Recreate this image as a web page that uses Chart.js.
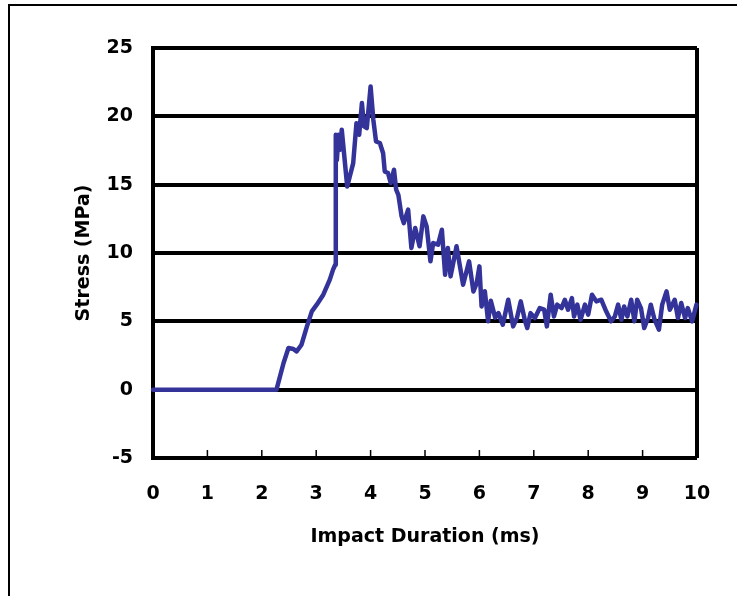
<!DOCTYPE html>
<html>
<head>
<meta charset="utf-8">
<script src="https://cdn.jsdelivr.net/npm/chart.js@4/dist/chart.umd.min.js"></script>
<style>
  body { margin: 0; background: #fff; overflow: hidden; }
  #frame { position: absolute; left: 8px; top: 4px; width: 900px; height: 800px; border: 2px solid #000; }
  #stressChart { position: absolute; left: 0; top: 0; }
</style>
</head>
<body>
<div id="frame"></div>
<canvas id="stressChart" width="737" height="596"></canvas>
<script>
// impact test trace
const timeMs = [
  0, 2.27, 2.40, 2.49, 2.58, 2.64, 2.73, 2.83, 2.92, 3.01, 3.13, 3.25, 3.31, 3.35,
  3.36, 3.38, 3.41, 3.44, 3.47, 3.57, 3.68, 3.74, 3.79, 3.84, 3.88, 3.93, 4.00,
  4.05, 4.10, 4.17, 4.23, 4.26, 4.32, 4.37, 4.43, 4.47, 4.51, 4.57, 4.61, 4.69,
  4.75, 4.82, 4.90, 4.97, 5.03, 5.10, 5.15, 5.24, 5.31, 5.37, 5.42, 5.47, 5.58,
  5.70, 5.81, 5.89, 5.95, 6.00, 6.04, 6.10, 6.16, 6.21, 6.29, 6.35, 6.43,
  6.53, 6.62, 6.69, 6.76, 6.84, 6.88, 6.94, 7.02, 7.11, 7.19, 7.24, 7.31, 7.37,
  7.43, 7.51, 7.57, 7.63, 7.70, 7.74, 7.80, 7.86, 7.94, 8.00, 8.07, 8.15, 8.24,
  8.33, 8.42, 8.49, 8.55, 8.61, 8.66, 8.72, 8.79, 8.85, 8.90, 8.97, 9.03, 9.10,
  9.15, 9.22, 9.30, 9.36, 9.44, 9.50, 9.59, 9.65, 9.71, 9.78, 9.83, 9.91, 9.99
];
const stressMPa = [
  0, 0, 1.95, 3.05, 2.98, 2.80, 3.29, 4.63, 5.73, 6.22, 6.95, 8.05, 8.78, 9.14,
  18.65, 16.8, 18.65, 17.56, 19.02, 14.87, 16.58, 19.5, 18.65, 20.97, 19.26, 19.14, 22.19,
  19.75, 18.16, 18.05, 17.3, 15.97, 15.85, 15.12, 16.09, 14.63, 14.26, 12.68, 12.19, 13.17,
  10.37, 11.83, 10.49, 12.68, 11.95, 9.39, 10.73, 10.61, 11.7, 8.41, 10.37, 8.29, 10.49,
  7.68, 9.39, 7.19, 7.8, 9.02, 6.09, 7.2, 5.0, 6.5, 5.27, 5.6, 4.75,
  6.58, 4.63, 5.24, 6.46, 5.0, 4.51, 5.6, 5.24, 5.97, 5.85, 4.63, 6.95, 5.36,
  6.22, 5.97, 6.58, 5.85, 6.7, 5.36, 6.22, 5.12, 6.22, 5.49, 6.95, 6.46, 6.58,
  5.73, 5.0, 5.36, 6.22, 5.12, 6.09, 5.36, 6.58, 5.0, 6.58, 5.97, 4.51, 5.24,
  6.22, 5.12, 4.39, 6.22, 7.19, 5.85, 6.58, 5.24, 6.34, 5.24, 5.97, 5.0, 6.22
];
const xTicks = [0, 1, 2, 3, 4, 5, 6, 7, 8, 9, 10];
const yTicks = [-5, 0, 5, 10, 15, 20, 25];

const labelFont = { family: "'DejaVu Sans', sans-serif", size: 19, weight: 'bold' };

// right edge of the plot box + small inner ticks on the bottom axis
const plotFrame = {
  id: 'plotFrame',
  beforeDatasetsDraw(chart) {
    const { ctx, chartArea: a, scales: { x } } = chart;
    ctx.save();
    ctx.strokeStyle = '#000';
    ctx.lineWidth = 4;
    ctx.beginPath();
    ctx.moveTo(a.right, a.top);
    ctx.lineTo(a.right, a.bottom);
    ctx.stroke();
    ctx.lineWidth = 1.5;
    x.ticks.forEach(t => {
      const px = x.getPixelForValue(t.value);
      ctx.beginPath();
      ctx.moveTo(px, a.bottom);
      ctx.lineTo(px, a.bottom - 8);
      ctx.stroke();
    });
    ctx.restore();
  }
};

document.addEventListener("DOMContentLoaded", () => {
  new Chart(document.getElementById("stressChart"), {
    type: "line",
    data: {
      datasets: [{
        data: timeMs.map((t, i) => ({ x: t, y: stressMPa[i] })),
        borderColor: "#333399",
        borderWidth: 4.5,
        pointRadius: 0,
        tension: 0,
        borderJoinStyle: 'round',
        borderCapStyle: 'round',
        clip: false
      }]
    },
    options: {
      responsive: false,
      animation: false,
      layout: { padding: { left: 0, top: 48, right: 40, bottom: 0 } },
      plugins: { legend: { display: false }, tooltip: { enabled: false } },
      scales: {
        x: {
          type: 'linear',
          min: 0, max: 10,
          afterBuildTicks: s => { s.ticks = xTicks.map(v => ({ value: v })); },
          afterFit: s => { s.height = 138; },
          grid: { display: false, drawTicks: false },
          border: { display: false },
          ticks: { color: '#000', font: labelFont, padding: 25, maxRotation: 0 },
          title: { display: true, text: 'Impact Duration (ms)', color: '#000', font: labelFont, padding: { top: 0, bottom: 48 } }
        },
        y: {
          min: -5, max: 25,
          afterBuildTicks: s => { s.ticks = yTicks.map(v => ({ value: v })); },
          afterFit: s => { s.width = 153; },
          grid: { color: '#000', lineWidth: 4, drawTicks: false },
          border: { display: true, color: '#000', width: 4 },
          ticks: { color: '#000', font: labelFont, padding: 20 },
          title: { display: true, text: 'Stress (MPa)', color: '#000', font: labelFont, padding: { top: 73, bottom: 0 } }
        }
      }
    },
    plugins: [plotFrame]
  });
});
</script>
</body>
</html>
